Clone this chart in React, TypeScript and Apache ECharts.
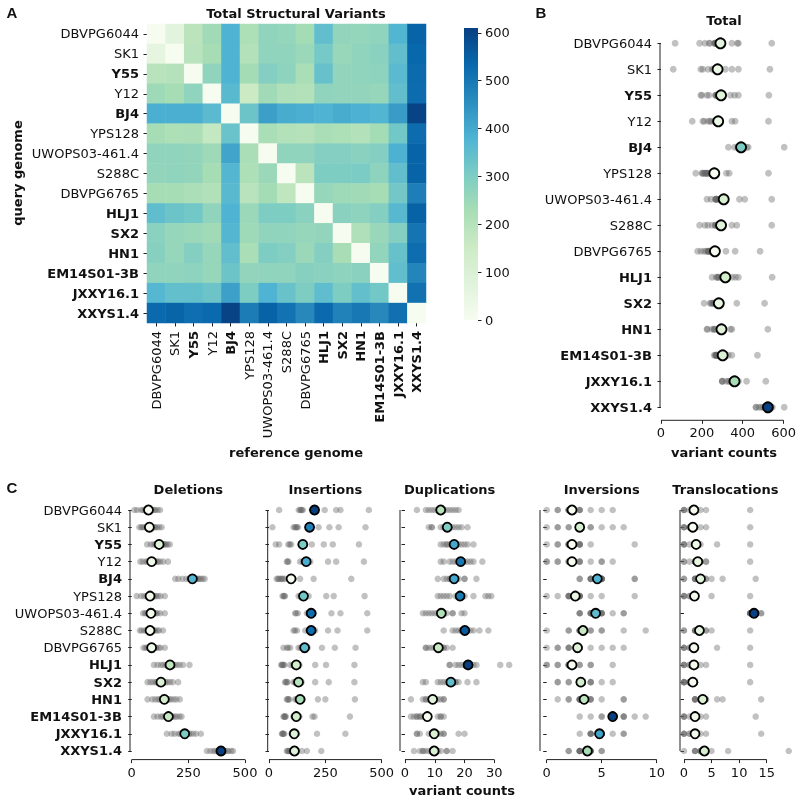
import React, { useEffect, useRef } from 'react';
import * as echarts from 'echarts';

const GENOMES = ['DBVPG6044', 'SK1', 'Y55', 'Y12', 'BJ4', 'YPS128', 'UWOPS03-461.4', 'S288C', 'DBVPG6765', 'HLJ1', 'SX2', 'HN1', 'EM14S01-3B', 'JXXY16.1', 'XXYS1.4'];
const BOLD = ['Y55', 'BJ4', 'HLJ1', 'SX2', 'HN1', 'EM14S01-3B', 'JXXY16.1', 'XXYS1.4'];

// rows = query genome, columns = reference genome
const TOTAL_MATRIX = [
  [0, 69, 189, 240, 379, 215, 270, 262, 235, 347, 265, 262, 267, 374, 542],
  [60, 0, 195, 230, 379, 205, 270, 270, 250, 315, 255, 270, 280, 347, 533],
  [195, 200, 0, 270, 379, 235, 290, 275, 225, 340, 265, 270, 275, 360, 528],
  [245, 230, 270, 0, 363, 153, 240, 211, 205, 270, 265, 265, 260, 347, 526],
  [390, 390, 390, 360, 0, 330, 420, 395, 390, 380, 395, 385, 375, 427, 603],
  [230, 215, 220, 170, 334, 0, 225, 205, 200, 225, 215, 205, 235, 320, 526],
  [270, 270, 265, 245, 410, 225, 0, 270, 270, 290, 290, 280, 290, 384, 542],
  [265, 270, 265, 230, 371, 215, 250, 0, 189, 300, 300, 305, 275, 347, 542],
  [230, 230, 220, 210, 363, 195, 235, 179, 0, 260, 245, 240, 230, 318, 485],
  [350, 330, 320, 270, 379, 250, 300, 300, 280, 0, 280, 275, 290, 365, 544],
  [280, 260, 250, 240, 371, 245, 270, 270, 260, 265, 0, 211, 255, 290, 507],
  [285, 260, 290, 260, 347, 225, 300, 290, 250, 290, 227, 0, 265, 340, 523],
  [270, 270, 275, 260, 330, 265, 270, 270, 285, 280, 275, 280, 0, 347, 472],
  [370, 345, 345, 330, 419, 300, 380, 335, 300, 350, 300, 345, 320, 0, 513],
  [530, 540, 520, 530, 603, 490, 545, 510, 465, 530, 480, 500, 465, 515, 0],
];
const COLORBAR_MAX = 610;
const COLORBAR_TICKS = [0, 100, 200, 300, 400, 500, 600];

const TOTAL_MEANS = [291, 277, 294, 280, 392, 261, 307, 294, 264, 315, 283, 296, 302, 360, 523];
const TOTAL_TICKS = [0, 200, 400, 600];

const DEL_MEANS = [74, 78, 121, 88, 268, 81, 85, 81, 88, 169, 129, 144, 162, 234, 394];
const DEL_POINTS = [
  [12, 24, 42, 50, 58, 66, 70, 79, 84, 90, 99, 104, 114, 125],
  [34, 43, 48, 57, 67, 70, 78, 86, 90, 99, 104, 111, 121, 132],
  [68, 84, 96, 104, 111, 117, 125, 129, 134, 141, 144, 151, 158, 168],
  [38, 49, 63, 70, 79, 87, 91, 99, 104, 111, 117, 126, 139, 160],
  [192, 206, 224, 241, 254, 263, 269, 279, 284, 291, 297, 304, 313, 322],
  [22, 41, 54, 66, 71, 79, 83, 87, 94, 101, 107, 116, 127, 146],
  [50, 58, 64, 73, 77, 83, 86, 91, 94, 101, 107, 114, 126, 146],
  [36, 44, 56, 64, 73, 77, 83, 86, 91, 99, 104, 113, 121, 138],
  [52, 61, 67, 76, 79, 86, 89, 96, 99, 106, 109, 119, 127, 146],
  [98, 114, 129, 139, 151, 157, 166, 171, 181, 187, 199, 211, 226, 255],
  [70, 83, 94, 106, 111, 121, 125, 133, 139, 149, 157, 169, 181, 205],
  [70, 91, 104, 116, 124, 136, 141, 151, 157, 166, 174, 186, 197, 212],
  [98, 114, 129, 137, 149, 154, 163, 167, 176, 181, 191, 199, 211, 220],
  [155, 176, 189, 206, 214, 226, 231, 239, 244, 253, 259, 271, 284, 305],
  [332, 347, 361, 369, 379, 384, 393, 397, 406, 411, 421, 427, 439, 447],
];
const DEL_TICKS = [0, 250, 500];

const INS_MEANS = [202, 180, 150, 165, 98, 153, 187, 187, 158, 121, 131, 138, 121, 112, 113];
const INS_POINTS = [
  [45, 132, 138, 142, 146, 150, 190, 198, 205, 210, 247, 298, 317, 443],
  [15, 109, 115, 120, 124, 128, 170, 175, 180, 190, 220, 268, 309, 428],
  [30, 45, 86, 92, 98, 140, 148, 150, 155, 160, 190, 243, 283, 399],
  [79, 83, 86, 138, 150, 155, 160, 165, 168, 172, 183, 262, 298, 421],
  [34, 40, 45, 52, 57, 62, 70, 88, 95, 105, 110, 138, 198, 365],
  [60, 64, 68, 71, 131, 140, 148, 150, 155, 160, 176, 254, 287, 424],
  [116, 120, 128, 168, 175, 180, 183, 185, 190, 195, 200, 277, 317, 436],
  [109, 115, 124, 161, 175, 182, 185, 188, 192, 198, 205, 262, 304, 436],
  [64, 79, 85, 94, 131, 140, 150, 155, 158, 165, 172, 235, 292, 384],
  [54, 58, 60, 64, 68, 94, 105, 115, 122, 128, 135, 205, 253, 379],
  [71, 75, 79, 82, 109, 115, 120, 128, 135, 140, 145, 205, 265, 379],
  [79, 83, 86, 90, 116, 122, 130, 136, 140, 145, 150, 217, 250, 381],
  [64, 68, 70, 71, 75, 108, 115, 120, 125, 130, 135, 193, 202, 359],
  [57, 60, 62, 64, 68, 100, 105, 108, 112, 116, 120, 125, 213, 339],
  [79, 83, 86, 90, 95, 100, 108, 112, 116, 120, 125, 146, 168, 232],
];
const INS_TICKS = [0, 250, 500];

const DUP_MEANS = [12.0, 14.2, 16.5, 18.7, 16.5, 18.5, 12.2, 20.1, 11.2, 21.2, 15.4, 9.3, 7.5, 9.8, 9.8];
const DUP_POINTS = [
  [4, 7, 8, 9, 10, 11, 12, 12, 13, 14, 15, 16, 17, 18],
  [8, 9, 9, 12, 13, 14, 14, 14, 15, 16, 17, 18, 19, 21],
  [12, 13, 14, 14, 15, 16, 16, 16, 17, 18, 19, 20, 21, 23],
  [12, 13, 15, 16, 17, 18, 18, 19, 19, 20, 21, 22, 23, 26],
  [11, 13, 14, 15, 15, 16, 16, 16, 17, 17, 18, 20, 20, 24],
  [11, 12, 13, 14, 15, 17, 18, 19, 19, 20, 23, 27, 28, 29],
  [6, 7, 8, 9, 10, 11, 12, 12, 13, 14, 16, 16, 19, 20],
  [13, 16, 17, 18, 19, 19, 20, 20, 20, 21, 22, 23, 25, 28],
  [7, 7, 8, 9, 10, 11, 11, 11, 12, 12, 13, 13, 14, 16],
  [15, 15, 17, 18, 19, 20, 21, 21, 21, 22, 23, 24, 32, 35],
  [6, 7, 11, 12, 13, 14, 15, 15, 16, 17, 17, 18, 21, 24],
  [2, 6, 7, 7, 8, 9, 9, 9, 10, 10, 11, 12, 13, 13],
  [2, 3, 4, 4, 5, 5, 6, 7, 7, 8, 11, 12, 12, 13],
  [4, 4, 5, 8, 9, 10, 10, 10, 11, 12, 13, 13, 18, 20],
  [3, 5, 6, 6, 7, 8, 9, 10, 10, 11, 12, 14, 14, 16],
];
const DUP_TICKS = [0, 10, 20, 30];

const INV_MEANS = [2.3, 3.0, 2.3, 2.3, 4.6, 2.6, 4.45, 3.3, 2.8, 2.3, 3.1, 3.4, 6.0, 4.8, 3.7];
const INV_POINTS = [
  [0, 1, 1, 2, 2, 2, 2, 2, 3, 3, 3, 4, 5, 6],
  [0, 1, 1, 2, 2, 3, 3, 3, 3, 4, 4, 5, 6, 7],
  [0, 1, 1, 2, 2, 2, 2, 2, 3, 3, 3, 3, 4, 8],
  [0, 0, 1, 1, 2, 2, 2, 3, 3, 3, 4, 5, 5, 6],
  [3, 3, 4, 4, 4, 4, 5, 5, 5, 5, 5, 5, 8, 8],
  [0, 1, 2, 2, 2, 2, 3, 3, 3, 3, 4, 5, 3, 8],
  [3, 3, 3, 4, 4, 4, 4, 5, 5, 5, 5, 6, 7, 7],
  [0, 2, 2, 3, 3, 3, 3, 3, 4, 4, 5, 5, 7, 9],
  [0, 1, 1, 2, 2, 2, 3, 3, 3, 3, 4, 5, 6, 7],
  [0, 0, 1, 1, 2, 2, 2, 2, 2, 3, 3, 4, 4, 6],
  [1, 1, 2, 2, 3, 3, 3, 3, 3, 4, 4, 4, 5, 6],
  [1, 2, 2, 3, 3, 3, 3, 3, 4, 4, 4, 5, 7, 7],
  [3, 4, 5, 5, 6, 6, 6, 6, 6, 7, 7, 7, 8, 9],
  [3, 4, 4, 4, 4, 5, 5, 5, 5, 5, 5, 6, 7, 7],
  [2, 2, 3, 3, 3, 3, 3, 4, 4, 4, 4, 4, 5, 5],
];
const INV_TICKS = [0, 5, 10];

const TRA_MEANS = [1.8, 1.6, 2.2, 2.5, 3.0, 1.9, 12.7, 2.8, 1.8, 1.8, 1.6, 3.4, 2.0, 2.0, 3.7];
const TRA_POINTS = [
  [0, 0, 0, 1, 2, 2, 2, 2, 2, 2, 2, 3, 4, 12],
  [0, 0, 0, 1, 1, 1, 2, 2, 2, 2, 2, 3, 4, 12],
  [0, 0, 0, 1, 2, 2, 2, 2, 2, 2, 2, 3, 6, 12],
  [0, 0, 1, 2, 2, 2, 2, 2, 3, 3, 3, 4, 4, 12],
  [0, 0, 2, 2, 2, 2, 3, 3, 3, 4, 4, 5, 7, 13],
  [0, 0, 0, 1, 1, 2, 2, 2, 2, 2, 2, 2, 5, 12],
  [12, 12, 12, 12, 12, 13, 13, 13, 13, 13, 13, 13, 14, 14],
  [0, 0, 2, 2, 2, 2, 3, 3, 3, 3, 4, 4, 5, 12],
  [0, 0, 0, 1, 1, 2, 2, 2, 2, 2, 2, 2, 6, 12],
  [0, 0, 0, 1, 1, 2, 2, 2, 2, 2, 2, 3, 4, 12],
  [0, 0, 0, 0, 1, 1, 1, 2, 2, 2, 2, 2, 2, 12],
  [2, 2, 2, 2, 3, 3, 3, 3, 3, 4, 4, 6, 7, 14],
  [0, 0, 0, 1, 2, 2, 2, 2, 2, 2, 2, 3, 4, 13],
  [0, 0, 0, 1, 1, 2, 2, 2, 2, 2, 2, 3, 4, 14],
  [0, 2, 2, 2, 3, 3, 3, 3, 4, 4, 4, 5, 8, 19],
];
const TRA_TICKS = [0, 5, 10, 15];

const GNBU = ['#f7fcf0', '#e0f3db', '#ccebc5', '#a8ddb5', '#7bccc4', '#4eb3d3', '#2b8cbe', '#0868ac', '#084081'];
const FONT = 'DejaVu Sans';
const TXT = '#111';

const richLabel = {
  n: { fontFamily: FONT, fontSize: 13, color: TXT },
  b: { fontFamily: FONT, fontSize: 13, color: TXT, fontWeight: 'bold' },
};
const fmtGenome = (v: string) => (BOLD.includes(v) ? `{b|${v}}` : `{n|${v}}`);

const tickStyle = { show: true, length: 3.5, lineStyle: { color: '#222', width: 1 } };

// layout of strip panels (pixels)
const C_TOP = 501.4;
const C_HEIGHT = 258.2;
const C_PANELS = [
  { title: 'Deletions', points: DEL_POINTS, means: DEL_MEANS, ticks: DEL_TICKS, left: 130, zero: 131.7, ppu: 113.3 / 500, right: 252 },
  { title: 'Insertions', points: INS_POINTS, means: INS_MEANS, ticks: INS_TICKS, left: 267.7, zero: 269, ppu: 112.7 / 500, right: 392 },
  { title: 'Duplications', points: DUP_POINTS, means: DUP_MEANS, ticks: DUP_TICKS, left: 400, zero: 405, ppu: 89.3 / 30, right: 522 },
  { title: 'Inversions', points: INV_POINTS, means: INV_MEANS, ticks: INV_TICKS, left: 540, zero: 546.7, ppu: 110 / 10, right: 665 },
  { title: 'Translocations', points: TRA_POINTS, means: TRA_MEANS, ticks: TRA_TICKS, left: 680, zero: 684, ppu: 82.7 / 15, right: 796 },
];
const B_LAYOUT = { left: 660, zero: 661, ppu: 125 / 600, right: 800, top: 30.3, height: 390 };

function stripData(rows: number[][]) {
  const out: number[][] = [];
  rows.forEach((row, r) => row.forEach((v) => out.push([v, r])));
  return out;
}

export default function App() {
  const ref = useRef<HTMLDivElement>(null);
  useEffect(() => {
    if (!ref.current) return;
    const chart = echarts.init(ref.current, undefined, { renderer: 'svg' });

    const heatData: number[][] = [];
    TOTAL_MATRIX.forEach((row, r) => row.forEach((v, c) => heatData.push([c, r, v])));
    const bPoints = TOTAL_MATRIX.map((row, r) => row.filter((_, c) => c !== r));

    const grids: any[] = [
      { left: 147, top: 24, width: 279, height: 299 },
      { left: 464, top: 28, width: 14, height: 292 },
      { left: B_LAYOUT.left, top: B_LAYOUT.top, width: B_LAYOUT.right - B_LAYOUT.left, height: B_LAYOUT.height },
    ];
    const xAxes: any[] = [
      {
        gridIndex: 0, type: 'category', data: GENOMES, position: 'bottom',
        axisLine: { show: false }, axisTick: { ...tickStyle, alignWithLabel: true, interval: 0 },
        axisLabel: { rotate: 90, interval: 0, margin: 8, formatter: fmtGenome, rich: richLabel },
        splitLine: { show: false },
      },
      { gridIndex: 1, type: 'category', data: ['cb'], show: false },
      {
        gridIndex: 2, type: 'value',
        min: -(B_LAYOUT.zero - B_LAYOUT.left) / B_LAYOUT.ppu,
        max: (B_LAYOUT.right - B_LAYOUT.zero) / B_LAYOUT.ppu,
        axisLine: { show: false }, splitLine: { show: false },
        axisTick: { ...tickStyle, customValues: TOTAL_TICKS },
        axisLabel: { customValues: TOTAL_TICKS, fontFamily: FONT, fontSize: 13, color: TXT, margin: 6 },
      },
    ];
    const yAxes: any[] = [
      {
        gridIndex: 0, type: 'category', data: GENOMES, inverse: true,
        axisLine: { show: false }, axisTick: { ...tickStyle, alignWithLabel: true, interval: 0 },
        axisLabel: { interval: 0, margin: 8, formatter: fmtGenome, rich: richLabel },
        splitLine: { show: false },
      },
      {
        gridIndex: 1, type: 'value', min: 0, max: COLORBAR_MAX, position: 'right',
        axisLine: { show: false }, splitLine: { show: false },
        axisTick: { ...tickStyle, customValues: COLORBAR_TICKS },
        axisLabel: { customValues: COLORBAR_TICKS, fontFamily: FONT, fontSize: 13, color: TXT, margin: 7 },
      },
      {
        gridIndex: 2, type: 'category', data: GENOMES, inverse: true,
        axisLine: { show: false }, axisTick: { ...tickStyle, alignWithLabel: true, interval: 0 },
        axisLabel: { interval: 0, margin: 8, formatter: fmtGenome, rich: richLabel },
        splitLine: { show: false },
      },
    ];
    const series: any[] = [
      {
        type: 'heatmap', xAxisIndex: 0, yAxisIndex: 0, data: heatData, silent: true,
        itemStyle: { borderWidth: 0 }, emphasis: { disabled: true },
      },
      {
        type: 'bar', xAxisIndex: 1, yAxisIndex: 1, data: [COLORBAR_MAX], barWidth: '100%', silent: true,
        itemStyle: {
          color: { type: 'linear', x: 0, y: 1, x2: 0, y2: 0, colorStops: GNBU.map((c, i) => ({ offset: i / (GNBU.length - 1), color: c })) },
        },
      },
      {
        type: 'scatter', xAxisIndex: 2, yAxisIndex: 2, data: stripData(bPoints), silent: true,
        symbolSize: 6.8, itemStyle: { color: 'rgba(100,100,100,0.5)' },
      },
      {
        type: 'scatter', xAxisIndex: 2, yAxisIndex: 2, data: TOTAL_MEANS.map((m, r) => [m, r]), silent: true, z: 5,
        symbolSize: 10, itemStyle: { borderColor: '#000', borderWidth: 1.8, opacity: 1 },
      },
    ];
    const visualMaps: any[] = [
      { type: 'continuous', show: false, seriesIndex: 0, dimension: 2, min: 0, max: COLORBAR_MAX, inRange: { color: GNBU } },
      { type: 'continuous', show: false, seriesIndex: 3, dimension: 0, min: Math.min(...TOTAL_MEANS), max: Math.max(...TOTAL_MEANS), inRange: { color: GNBU } },
    ];

    C_PANELS.forEach((p, k) => {
      const ax = 3 + k;
      grids.push({ left: p.left, top: C_TOP, width: p.right - p.left, height: C_HEIGHT });
      xAxes.push({
        gridIndex: ax, type: 'value',
        min: -(p.zero - p.left) / p.ppu, max: (p.right - p.zero) / p.ppu,
        axisLine: { show: false }, splitLine: { show: false },
        axisTick: { ...tickStyle, customValues: p.ticks },
        axisLabel: { customValues: p.ticks, fontFamily: FONT, fontSize: 13, color: TXT, margin: 6 },
      });
      yAxes.push({
        gridIndex: ax, type: 'category', data: GENOMES, inverse: true,
        axisLine: { show: false }, axisTick: { ...tickStyle, alignWithLabel: true, interval: 0 },
        axisLabel: { show: k === 0, interval: 0, margin: 8, formatter: fmtGenome, rich: richLabel },
        splitLine: { show: false },
      });
      series.push({
        type: 'scatter', xAxisIndex: ax, yAxisIndex: ax, data: stripData(p.points), silent: true,
        symbolSize: 6.5, itemStyle: { color: 'rgba(100,100,100,0.5)' },
      });
      const meanIdx = series.length;
      series.push({
        type: 'scatter', xAxisIndex: ax, yAxisIndex: ax, data: p.means.map((m, r) => [m, r]), silent: true, z: 5,
        symbolSize: 9, itemStyle: { borderColor: '#000', borderWidth: 1.8, opacity: 1 },
      });
      visualMaps.push({
        type: 'continuous', show: false, seriesIndex: meanIdx, dimension: 0,
        min: Math.min(...p.means), max: Math.max(...p.means), inRange: { color: GNBU },
      });
    });

    chart.setOption({
      animation: false,
      textStyle: { fontFamily: FONT },
      grid: grids,
      xAxis: xAxes,
      yAxis: yAxes,
      visualMap: visualMaps,
      series,
    });

    const text = (t: string, x: number, y: number, font: string, extra: any = {}) => ({
      type: 'text', x, y, silent: true, ...extra,
      style: { text: t, font, fill: TXT, textAlign: 'center', textVerticalAlign: 'middle' },
    });
    const boldFont = `bold 13px "${FONT}"`;
    const elements: any[] = [
      text('A', 12, 12, 'bold 15px "Liberation Sans"'),
      text('B', 541, 12, 'bold 15px "Liberation Sans"'),
      text('C', 12, 487, 'bold 15px "Liberation Sans"'),
      text('Total Structural Variants', 296, 13, boldFont),
      text('reference genome', 296, 452, boldFont),
      text('query genome', 17, 173, boldFont, { rotation: Math.PI / 2 }),
      text('Total', 724, 20, boldFont),
      text('variant counts', 724, 452, boldFont),
      text('variant counts', 462, 790, boldFont),
    ];

    const spine = (axisIdx: number, left: number, bottom: number, ticks: number[]) => {
      const yTop = chart.convertToPixel({ yAxisIndex: axisIdx }, 0) as number;
      const yBot = chart.convertToPixel({ yAxisIndex: axisIdx }, GENOMES.length - 1) as number;
      const x0 = chart.convertToPixel({ xAxisIndex: axisIdx }, ticks[0]) as number;
      const x1 = chart.convertToPixel({ xAxisIndex: axisIdx }, ticks[ticks.length - 1]) as number;
      elements.push({ type: 'line', silent: true, shape: { x1: left, y1: yTop, x2: left, y2: yBot }, style: { stroke: '#222', lineWidth: 1 } });
      elements.push({ type: 'line', silent: true, shape: { x1: x0, y1: bottom, x2: x1, y2: bottom }, style: { stroke: '#222', lineWidth: 1 } });
    };
    spine(2, B_LAYOUT.left, B_LAYOUT.top + B_LAYOUT.height, TOTAL_TICKS);
    C_PANELS.forEach((p, k) => {
      spine(3 + k, p.left, C_TOP + C_HEIGHT, p.ticks);
      const cx = ((chart.convertToPixel({ xAxisIndex: 3 + k }, p.ticks[0]) as number) +
        (chart.convertToPixel({ xAxisIndex: 3 + k }, p.ticks[p.ticks.length - 1]) as number)) / 2;
      elements.push(text(p.title, cx, 489, boldFont));
    });

    chart.setOption({ graphic: { elements } });

    return () => chart.dispose();
  }, []);

  return <div ref={ref} style={{ position: 'fixed', left: 0, top: 0, width: 799, height: 798 }} />;
}
